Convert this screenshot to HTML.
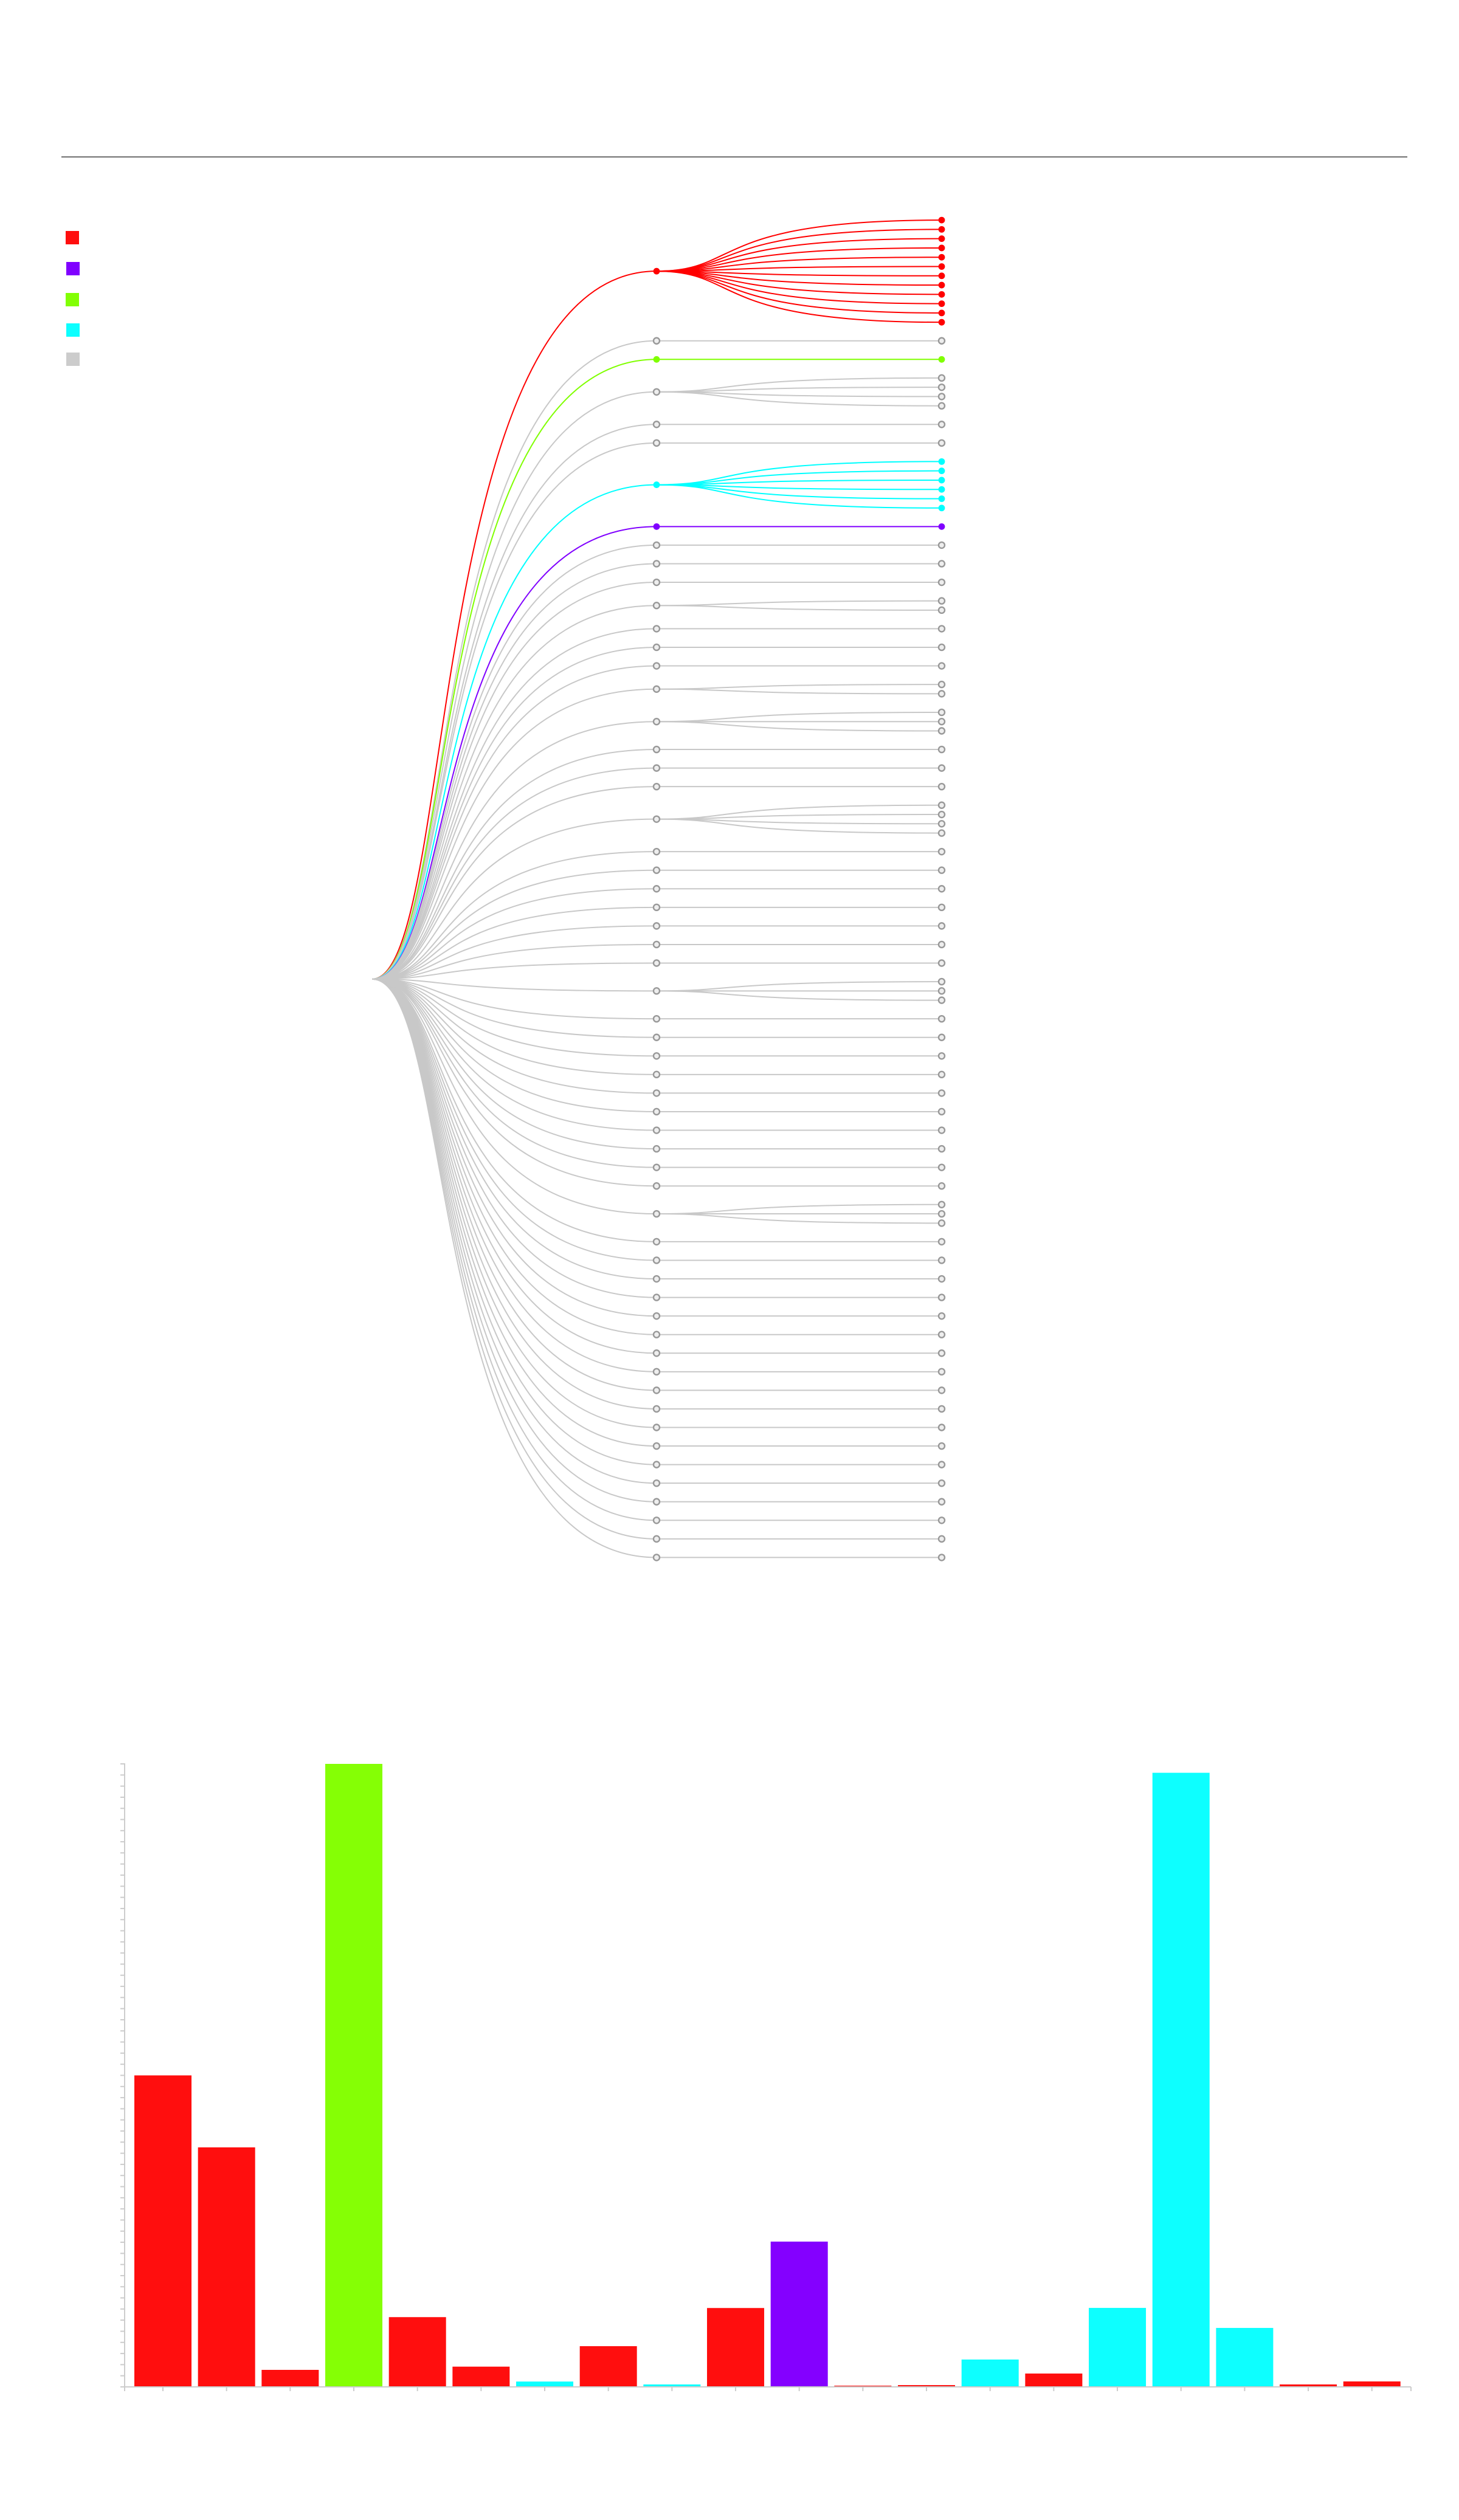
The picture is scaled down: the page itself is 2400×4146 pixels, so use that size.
<!DOCTYPE html>
<html lang="en">
<head>
<meta charset="utf-8">
<title>Tree and bar chart</title>
<style>
html,body{margin:0;padding:0;background:#fff;}
svg{display:block;}
</style>
</head>
<body>
<svg id="chart" xmlns="http://www.w3.org/2000/svg" width="2400" height="4146" viewBox="0 0 2400 4146">
  <rect x="0" y="0" width="2400" height="4146" fill="#ffffff"/>
  <rect x="101" y="257.5" width="2214" height="1.4" fill="#333333"/>
  <g>
    <rect x="108" y="380" width="22" height="22" fill="#ff0e0e"/>
    <rect x="109" y="431" width="22" height="22" fill="#8000ff"/>
    <rect x="108" y="482" width="22" height="22" fill="#82ff04"/>
    <rect x="109" y="532" width="22" height="22" fill="#0dffff"/>
    <rect x="109" y="580" width="22" height="22" fill="#cccccc"/>
  </g>
  <g id="tree-links"></g>
  <g id="tree-nodes"></g>
  <g id="bars"></g>
  <g id="y-axis"></g>
  <g id="x-axis"></g>
</svg>
<script>
// Tree data: leaves per second-level branch, and the branch's category
const groupLeafCounts = [
  12, 1, 1, 4, 1, 1, 6, 1,
  1, 1, 1, 2, 1, 1, 1, 2, 3,
  1, 1, 1, 4,
  1, 1, 1, 1, 1, 1, 1, 3,
  1, 1, 1, 1, 1, 1, 1, 1, 1, 1, 3,
  1, 1, 1, 1, 1, 1, 1, 1, 1, 1, 1, 1, 1, 1, 1, 1, 1, 1
];
const coloredGroups = { 0: 'red', 2: 'green', 6: 'cyan', 7: 'purple' };

// Bar data: heights in y-axis units, and each bar's category
const barValues = [28.0, 21.53, 1.53, 56, 6.27, 1.82, 0.48, 3.66, 0.22, 7.09, 13.06, 0.11, 0.16, 2.46, 1.2, 7.1, 55.2, 5.3, 0.22, 0.49];
const barCategories = ['red', 'red', 'red', 'green', 'red', 'red', 'cyan', 'red', 'cyan', 'red', 'purple', 'red', 'red', 'cyan', 'red', 'cyan', 'cyan', 'cyan', 'red', 'red'];
const yTickValues = [0, 1, 2, 3, 4, 5, 6, 7, 8, 9, 10, 11, 12, 13, 14, 15, 16, 17, 18, 19, 20, 21, 22, 23, 24, 25, 26, 27, 28, 29, 30, 31, 32, 33, 34, 35, 36, 37, 38, 39, 40, 41, 42, 43, 44, 45, 46, 47, 48, 49, 50, 51, 52, 53, 54, 55, 56];
const yDomainMax = 56;

const linePalette = { red: '#ff0000', purple: '#8000ff', green: '#80ff00', cyan: '#00ffff', gray: '#c8c8c8' };
const barPalette = { red: '#ff0e0e', purple: '#8400ff', green: '#85ff05', cyan: '#0dffff' };
const NS = 'http://www.w3.org/2000/svg';

function make(tag, attrs, parent) {
  const el = document.createElementNS(NS, tag);
  for (const k in attrs) el.setAttribute(k, attrs[k]);
  parent.appendChild(el);
  return el;
}

// Tree scales
const rootX = 612, midX = 1080, leafX = 1549;
const leafTop = 362.1, leafStep = 15.28;
const rowY = function (row) { return leafTop + row * leafStep; };
// Both control points sit near the source, giving the asymmetric link shape
const linkPath = function (sx, sy, tx, ty) {
  const c1 = sx + (tx - sx) * 0.3;
  const c2 = sx + (tx - sx) * 0.18;
  return 'M' + sx + ',' + sy + 'C' + c1 + ',' + sy + ' ' + c2 + ',' + ty + ' ' + tx + ',' + ty;
};

const linkLayer = document.getElementById('tree-links');
const nodeLayer = document.getElementById('tree-nodes');

// Lay out rows: siblings 1 step apart, separate branches 2 steps apart
let row = 0;
const branches = groupLeafCounts.map(function (count, i) {
  const rows = [];
  for (let j = 0; j < count; j++) {
    rows.push(row);
    row += 1;
  }
  row += 1;
  const mid = (rows[0] + rows[rows.length - 1]) / 2;
  return { index: i, rows: rows, mid: mid, category: coloredGroups[i] || 'gray' };
});

const rootY = branches.reduce(function (s, b) { return s + rowY(b.mid); }, 0) / branches.length;

function drawNode(x, y, category, name) {
  const isGray = category === 'gray';
  const node = make('circle', {
    cx: x, cy: y, r: isGray ? 5 : 5.4,
    fill: isGray ? '#eeeeee' : linePalette[category],
    stroke: isGray ? '#999999' : 'none',
    'stroke-width': isGray ? 2.4 : 0
  }, nodeLayer);
  
  
}

// Links are painted in tree order, so later branches cover earlier ones at the root
branches.forEach(function (b) {
  const linkStyle = { fill: 'none', stroke: linePalette[b.category], 'stroke-width': 2 };
  const rootLink = make('path', Object.assign({ d: linkPath(rootX, rootY, midX, rowY(b.mid)) }, linkStyle), linkLayer);
  
  
  b.rows.forEach(function (r) {
    const leafLink = make('path', Object.assign({ d: linkPath(midX, rowY(b.mid), leafX, rowY(r)) }, linkStyle), linkLayer);
    
    
    drawNode(leafX, rowY(r), b.category, 'leaf-node-' + b.category);
  });
  drawNode(midX, rowY(b.mid), b.category, 'branch-node-' + b.category);
});

// Bar chart scales
const axisLeft = 205, axisRight = 2321, baseline = 3927, plotTop = 2902;
const bandCenter = function (i) { return 268 + i * 104.67; };
const barWidth = 94;
const yScale = function (v) { return baseline - (v / yDomainMax) * (baseline - plotTop); };

const barLayer = document.getElementById('bars');
barValues.forEach(function (v, i) {
  const top = yScale(v);
  const bar = make('rect', {
    x: bandCenter(i) - barWidth / 2,
    y: top,
    width: barWidth,
    height: baseline - top,
    fill: barPalette[barCategories[i]]
  }, barLayer);
  
  
});

// Axes
const axisColor = '#cccccc';
const yAxis = document.getElementById('y-axis');
const xAxis = document.getElementById('x-axis');
const yLine = make('line', { x1: axisLeft, x2: axisLeft, y1: plotTop - 1, y2: baseline + 7, stroke: axisColor, 'stroke-width': 2 }, yAxis);


yTickValues.forEach(function (t) {
  const tick = make('line', { x1: axisLeft - 7, x2: axisLeft, y1: yScale(t), y2: yScale(t), stroke: axisColor, 'stroke-width': 2 }, yAxis);
  
  
});
const xLine = make('line', { x1: axisLeft - 7, x2: axisRight, y1: baseline, y2: baseline, stroke: axisColor, 'stroke-width': 2 }, xAxis);


barValues.forEach(function (v, i) {
  const tick = make('line', { x1: bandCenter(i), x2: bandCenter(i), y1: baseline, y2: baseline + 7, stroke: axisColor, 'stroke-width': 2 }, xAxis);
  
  
});
const xEnd = make('line', { x1: axisRight, x2: axisRight, y1: baseline, y2: baseline + 7, stroke: axisColor, 'stroke-width': 2 }, xAxis);


</script>
</body>
</html>
